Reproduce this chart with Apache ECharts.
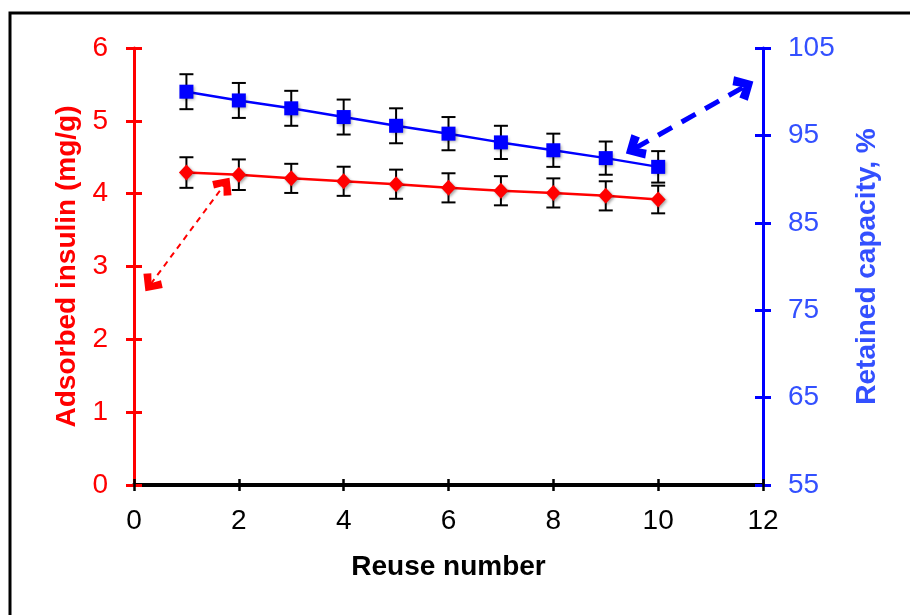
<!DOCTYPE html>
<html>
<head>
<meta charset="utf-8">
<script src="https://cdn.jsdelivr.net/npm/echarts@6/dist/echarts.min.js"></script>
<style>
  html, body { margin: 0; padding: 0; background: #fff; }
  #chart { width: 910px; height: 615px; }
</style>
</head>
<body>
<div id="chart"></div>
<script>
// reuse cycles
const reuse = [1, 2, 3, 4, 5, 6, 7, 8, 9, 10]
// adsorbed insulin (mg/g), left axis
const insulin = [4.29, 4.26, 4.21, 4.17, 4.13, 4.08, 4.04, 4.01, 3.97, 3.92]
const insulinErr = [0.21, 0.21, 0.2, 0.2, 0.2, 0.2, 0.2, 0.2, 0.2, 0.19]
// retained capacity (%), right axis
const capacity = [100.0, 99.0, 98.1, 97.1, 96.1, 95.2, 94.2, 93.3, 92.4, 91.4]
const capacityErr = [2.0, 2.0, 2.0, 2.0, 2.0, 1.9, 1.9, 1.9, 1.9, 1.8]
// dashed double arrows (from, to)
const redArrow = [[0.32, 2.76], [1.72, 4.12]]
const blueArrow = [[9.55, 93.5], [11.65, 100.6]]

const font = "'Liberation Sans', Arial, sans-serif"
// open arrow head, tip pointing up
const chevron = "path://M0,10 L10,0 L20,10 L15,14 L10,8 L5,14 Z"

const errData = (vals, errs) => reuse.map((x, i) => [x, vals[i] - errs[i], vals[i] + errs[i]])

const renderErr = (params, api) => {
  const x = api.value(0)
  const lo = api.coord([x, api.value(1)])
  const hi = api.coord([x, api.value(2)])
  const w = 7
  const st = { stroke: "#000", lineWidth: 2 }
  return {
    type: "group",
    children: [
      { type: "line", shape: { x1: lo[0], y1: lo[1], x2: hi[0], y2: hi[1] }, style: st },
      { type: "line", shape: { x1: lo[0] - w, y1: lo[1], x2: lo[0] + w, y2: lo[1] }, style: st },
      { type: "line", shape: { x1: hi[0] - w, y1: hi[1], x2: hi[0] + w, y2: hi[1] }, style: st },
    ],
  }
}

// axis that only draws inward ticks (to get ticks crossing the axis line)
const innerTicks = (pos, min, max, interval, color, width, len) => ({
  type: "value",
  position: pos,
  min: min,
  max: max,
  interval: interval,
  axisLine: { show: false, onZero: false },
  axisTick: { show: true, inside: true, length: len, lineStyle: { color: color, width: width } },
  axisLabel: { show: false },
  splitLine: { show: false },
})

const myChart = echarts.init(document.getElementById("chart"))

const option = {
  animation: false,
  backgroundColor: "#fff",
  graphic: [
    {
      type: "rect",
      shape: { x: 10, y: 13, width: 960, height: 660 },
      style: { fill: "none", stroke: "#000", lineWidth: 3 },
      z: 0,
    },
  ],
  grid: { left: 134, right: 147, top: 48, bottom: 130 },
  xAxis: [
    {
      type: "value",
      position: "bottom",
      min: 0,
      max: 12,
      interval: 2,
      name: "Reuse number",
      nameLocation: "middle",
      nameGap: 68,
      nameTextStyle: { color: "#000", fontSize: 28, fontWeight: "bold", fontFamily: font },
      axisLine: { onZero: false, lineStyle: { color: "#000", width: 4 } },
      axisTick: { length: 6, lineStyle: { color: "#000", width: 2.5 } },
      axisLabel: { color: "#000", fontSize: 28, fontFamily: font, margin: 22 },
      splitLine: { show: false },
    },
    innerTicks("bottom", 0, 12, 2, "#000", 2.5, 6),
  ],
  yAxis: [
    {
      type: "value",
      position: "left",
      min: 0,
      max: 6,
      interval: 1,
      name: "Adsorbed insulin (mg/g)",
      nameLocation: "middle",
      nameRotate: 90,
      nameGap: 48,
      nameTextStyle: { color: "#ff0000", fontSize: 28, fontWeight: "bold", fontFamily: font },
      axisLine: { show: true, onZero: false, lineStyle: { color: "#ff0000", width: 3 } },
      axisTick: { show: true, length: 8, lineStyle: { color: "#ff0000", width: 3 } },
      axisLabel: { color: "#ff0000", fontSize: 28, fontFamily: font, margin: 26 },
      splitLine: { show: false },
    },
    {
      type: "value",
      position: "right",
      min: 55,
      max: 105,
      interval: 10,
      name: "Retained capacity, %",
      nameLocation: "middle",
      nameRotate: 90,
      nameGap: 90,
      nameTextStyle: { color: "#3350ff", fontSize: 28, fontWeight: "bold", fontFamily: font },
      axisLine: { show: true, onZero: false, lineStyle: { color: "#0000ff", width: 3 } },
      axisTick: { show: true, length: 8, lineStyle: { color: "#0000ff", width: 3 } },
      axisLabel: { color: "#3350ff", fontSize: 28, fontFamily: font, margin: 25 },
      splitLine: { show: false },
    },
    innerTicks("left", 0, 6, 1, "#ff0000", 3, 8),
    innerTicks("right", 55, 105, 10, "#0000ff", 3, 8),
  ],
  series: [
    {
      type: "custom",
      xAxisIndex: 0,
      yAxisIndex: 0,
      renderItem: renderErr,
      data: errData(insulin, insulinErr),
      z: 1,
    },
    {
      type: "custom",
      xAxisIndex: 0,
      yAxisIndex: 1,
      renderItem: renderErr,
      data: errData(capacity, capacityErr),
      z: 1,
    },
    {
      type: "line",
      xAxisIndex: 0,
      yAxisIndex: 0,
      data: reuse.map((x, i) => [x, insulin[i]]),
      symbol: "diamond",
      symbolSize: [15, 16],
      lineStyle: { color: "#ff0000", width: 2.5 },
      itemStyle: {
        color: "#ff0000",
        shadowColor: "rgba(0,0,0,0.35)",
        shadowBlur: 3,
        shadowOffsetX: 1.5,
        shadowOffsetY: 1.5,
      },
      z: 3,
      markLine: {
        silent: true,
        symbol: [chevron, chevron],
        symbolSize: [24, 18],
        label: { show: false },
        lineStyle: { color: "#ff0000", width: 2, type: [6, 5] },
        data: [[{ coord: redArrow[0] }, { coord: redArrow[1] }]],
      },
    },
    {
      type: "line",
      xAxisIndex: 0,
      yAxisIndex: 1,
      data: reuse.map((x, i) => [x, capacity[i]]),
      symbol: "rect",
      symbolSize: 14,
      lineStyle: { color: "#0000ff", width: 2.5 },
      itemStyle: {
        color: "#0000ff",
        shadowColor: "rgba(0,0,0,0.35)",
        shadowBlur: 3,
        shadowOffsetX: 1.5,
        shadowOffsetY: 1.5,
      },
      z: 3,
      markLine: {
        silent: true,
        symbol: [chevron, chevron],
        symbolSize: [28, 20],
        label: { show: false },
        lineStyle: { color: "#0000ff", width: 5, type: [16, 11] },
        data: [[{ coord: blueArrow[0] }, { coord: blueArrow[1] }]],
      },
    },
    // empty series so the tick-only axes are bound to the grid
    { type: "line", xAxisIndex: 1, yAxisIndex: 2, data: [], silent: true },
    { type: "line", xAxisIndex: 1, yAxisIndex: 3, data: [], silent: true },
  ],
}

myChart.setOption(option)
</script>
</body>
</html>
